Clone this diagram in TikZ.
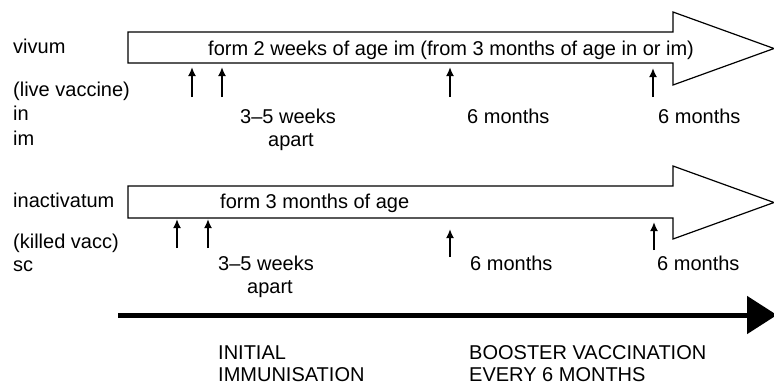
\documentclass[tikz,border=0pt]{standalone}
\usepackage{fontspec}
\setmainfont{Liberation Sans}
\usetikzlibrary{arrows.meta}

\tikzset{
  lbl/.style={anchor=base west, inner sep=0pt, font=\fontsize{20}{24}\selectfont},
  clbl/.style={lbl, anchor=base},
  blockarrow/.style={draw, line width=1.2pt, fill=white, line join=miter},
  tick/.style={line width=2.4pt, -{Latex[length=9pt,width=8pt]}},
  timeline/.style={line width=5pt, -{Triangle[length=30pt,width=37pt]}}
}

\begin{document}
\begin{tikzpicture}[x=1pt, y=-1pt]
  \useasboundingbox (0,0) rectangle (774,384);

  % block arrows
  \draw[blockarrow] (128,32) -- (673,32) -- (673,12) -- (774,48.5) -- (673,85) -- (673,63) -- (128,63) -- cycle;
  \draw[blockarrow] (128,186) -- (673,186) -- (673,166) -- (774,202.5) -- (673,239) -- (673,218) -- (128,218) -- cycle;

  % left labels
  \node[lbl] (vivum) at (13,53) {vivum};
  \node[lbl] (live) at (13,96) {(live vaccine)};
  \node[lbl] (livein) at (13,120.5) {in};
  \node[lbl] (liveim) at (13,145) {im};
  \node[lbl] (inact) at (13,207) {inactivatum};
  \node[lbl] (killed) at (13,248) {(killed vacc)};
  \node[lbl] (killedsc) at (13,271) {sc};

  % texts in the block arrows
  \node[lbl] (livefrom) at (208,55) {form 2 weeks of age im (from 3 months of age in or im)};
  \node[lbl] (killedfrom) at (220,208) {form 3 months of age};

  % vaccination marks, live vaccine
  \coordinate (l1a) at (192,67);  \coordinate (l1b) at (192,97);
  \coordinate (l2a) at (222,67);  \coordinate (l2b) at (222,97);
  \coordinate (l3a) at (450,67);  \coordinate (l3b) at (450,97);
  \coordinate (l4a) at (653,68);  \coordinate (l4b) at (653,97);
  \foreach \i in {1,...,4}
    \draw[tick] (l\i b) -- (l\i a);

  \node[lbl] (liveweeks) at (240,123) {3--5 weeks};
  \node[clbl] (liveapart) at (291,146) {apart};
  \node[lbl] (livesix) at (467,123) {6 months};
  \node[lbl] (livesixb) at (658,123) {6 months};

  % vaccination marks, killed vaccine
  \coordinate (k1a) at (177,219); \coordinate (k1b) at (177,248);
  \coordinate (k2a) at (208,219); \coordinate (k2b) at (208,248);
  \coordinate (k3a) at (450,229); \coordinate (k3b) at (450,257);
  \coordinate (k4a) at (654,222); \coordinate (k4b) at (654,250);
  \foreach \i in {1,...,4}
    \draw[tick] (k\i b) -- (k\i a);

  \node[lbl] (killedweeks) at (218,270) {3--5 weeks};
  \node[clbl] (killedapart) at (270,293) {apart};
  \node[lbl] (killedsix) at (470,270) {6 months};
  \node[lbl] (killedsixb) at (657,270) {6 months};

  % time line
  \coordinate (tstart) at (118,315);
  \coordinate (tend) at (777,315);
  \draw[timeline] (tstart) -- (tend);

  \node[lbl] (initial) at (218,359) {INITIAL};
  \node[lbl] (immun) at (218,381) {IMMUNISATION};
  \node[lbl] (booster) at (469,359) {BOOSTER VACCINATION};
  \node[lbl] (every) at (469,381) {EVERY 6 MONTHS};
\end{tikzpicture}
\end{document}
